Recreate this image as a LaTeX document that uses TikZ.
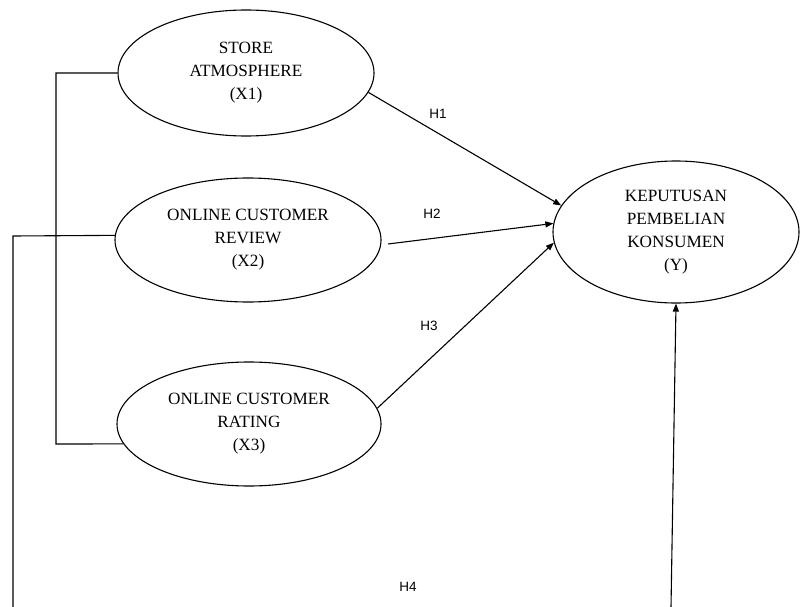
\documentclass[tikz,border=0pt]{standalone}
\usepackage{fontspec}
\setmainfont{Liberation Serif}
\newfontfamily\labfont{Liberation Sans}
\usetikzlibrary{shapes.geometric,arrows.meta}
\tikzset{
  var/.style={draw, ellipse, line width=1.1pt, inner sep=0pt, align=center,
    font=\fontsize{17.2}{23}\selectfont},
  link/.style={line width=1.1pt},
  arr/.style={line width=1.1pt, -{Triangle[length=8pt,width=6pt]}},
  hlab/.style={font=\labfont\fontsize{13.5}{16}\selectfont}
}
\begin{document}
\begin{tikzpicture}[x=1pt,y=-1pt]
\useasboundingbox (0,0) rectangle (800,607);
\node[var, minimum width=256pt, minimum height=126pt] (x1) at (246,73) {STORE\\ATMOSPHERE\\(X1)};
\node[var, minimum width=266pt, minimum height=124pt] (x2) at (248,240) {ONLINE CUSTOMER\\REVIEW\\(X2)};
\node[var, minimum width=264pt, minimum height=124pt] (x3) at (249,424) {ONLINE CUSTOMER\\RATING\\(X3)};
\node[var, minimum width=246pt, minimum height=142pt] (y) at (676,232) {KEPUTUSAN\\PEMBELIAN\\KONSUMEN\\(Y)};
% bracket
\coordinate (bt) at (56,73);
\coordinate (bb) at (56,444);
\draw[link] (x1.west) -- (bt) -- (bb) -- (x3.189);
% long left line
\coordinate (lt) at (13,236);
\coordinate (lb) at (13,607);
\draw[link] (x2.178) -- (lt) -- (lb);
% arrows
\coordinate (h2s) at (388,244);
\draw[arr] (x1.-9) -- (y.167);
\draw[arr] (h2s) -- (y.176);
\draw[arr] (x3.7) -- (y.185);
\coordinate (rb) at (671,607);
\draw[arr] (rb) -- (y.south);
% labels
\node[hlab] (h1) at (438,114) {H1};
\node[hlab] (h2) at (432,214) {H2};
\node[hlab] (h3) at (429,326) {H3};
\node[hlab] (h4) at (408,587) {H4};
\end{tikzpicture}
\end{document}
